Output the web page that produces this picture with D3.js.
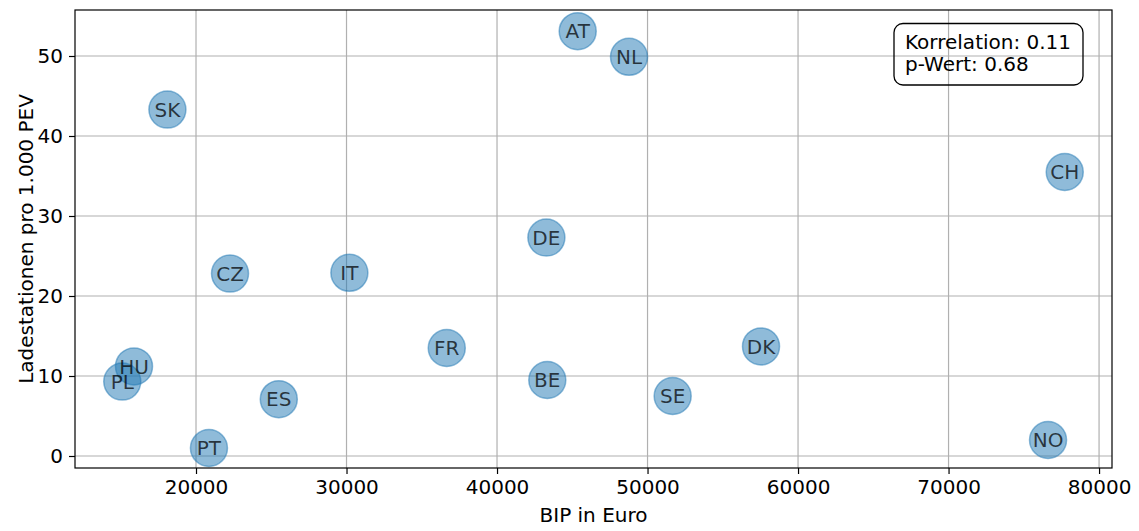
<!DOCTYPE html>
<html>
<head>
<meta charset="utf-8">
<script src="https://cdn.jsdelivr.net/npm/d3@7"></script>
<style>
  html, body { margin: 0; padding: 0; background: #fff; }
  svg { display: block; font-family: "DejaVu Sans", sans-serif; }
</style>
</head>
<body>
<svg id="chart" width="1139" height="531"></svg>
<script>
// Länderkürzel, BIP pro Kopf (Euro) und Ladestationen pro 1.000 PEV
const countries = ["SK", "AT", "NL", "CH", "CZ", "IT", "HU", "PL", "ES", "PT", "DE", "FR", "BE", "SE", "DK", "NO"];
const gdp = [18100, 45360, 48770, 77720, 22260, 30190, 15880, 15100, 25500, 20860, 43280, 36660, 43340, 51670, 57540, 76610];
const chargers = [43.3, 53.1, 49.9, 35.5, 22.8, 22.9, 11.2, 9.3, 7.1, 1.0, 27.3, 13.5, 9.5, 7.5, 13.7, 2.0];
const xTicks = [20000, 30000, 40000, 50000, 60000, 70000, 80000];
const yTicks = [0, 10, 20, 30, 40, 50];
const statsLines = ["Korrelation: 0.11", "p-Wert: 0.68"];

const svg = d3.select("#chart");
const margin = { left: 75, right: 27, top: 10, bottom: 63 };
const W = 1139, H = 531;
const iw = W - margin.left - margin.right;
const ih = H - margin.top - margin.bottom;

const x = d3.scaleLinear().domain([11960, 80860]).range([0, iw]);
const y = d3.scaleLinear().domain([-1.5, 55.75]).range([ih, 0]);

const g = svg.append("g").attr("transform", `translate(${margin.left},${margin.top})`);

// Gitterlinien
g.append("g").selectAll("line").data(xTicks).join("line")
  .attr("x1", d => x(d)).attr("x2", d => x(d))
  .attr("y1", 0).attr("y2", ih)
  .attr("stroke", "#b0b0b0").attr("stroke-width", 1.2);
g.append("g").selectAll("line").data(yTicks).join("line")
  .attr("y1", d => y(d)).attr("y2", d => y(d))
  .attr("x1", 0).attr("x2", iw)
  .attr("stroke", "#b0b0b0").attr("stroke-width", 1.2);

// Achsen
const fs = 20;
const xAxis = g.append("g").attr("transform", `translate(0,${ih})`)
  .call(d3.axisBottom(x).tickValues(xTicks).tickFormat(d3.format("d")).tickSize(6).tickPadding(6));
const yAxis = g.append("g")
  .call(d3.axisLeft(y).tickValues(yTicks).tickFormat(d3.format("d")).tickSize(6).tickPadding(6));
[xAxis, yAxis].forEach(a => {
  a.select(".domain").remove();
  a.selectAll(".tick line").attr("stroke", "#000").attr("stroke-width", 1.2);
  a.selectAll(".tick text").attr("fill", "#000").style("font-size", fs + "px")
    .style("font-family", "'DejaVu Sans', sans-serif");
});

// Punkte
const pts = countries.map((c, i) => ({ c, gx: gdp[i], v: chargers[i] }));
g.append("g").selectAll("circle").data(pts).join("circle")
  .attr("cx", d => x(d.gx)).attr("cy", d => y(d.v)).attr("r", 18.5)
  .attr("fill", "#1f77b4").attr("fill-opacity", 0.5)
  .attr("stroke", "#1f77b4").attr("stroke-opacity", 0.5).attr("stroke-width", 1.5);

g.append("g").selectAll("text").data(pts).join("text")
  .attr("x", d => x(d.gx)).attr("y", d => y(d.v))
  .attr("text-anchor", "middle").attr("dy", "0.36em")
  .attr("fill", "#000").attr("fill-opacity", 0.72)
  .style("font-size", fs + "px")
  .text(d => d.c);

// Rahmen
g.append("rect").attr("x", 0).attr("y", 0).attr("width", iw).attr("height", ih)
  .attr("fill", "none").attr("stroke", "#000").attr("stroke-width", 1.2);

// Statistik-Box
const box = g.append("g").attr("transform", `translate(${894 - margin.left},${23.5 - margin.top})`);
box.append("rect").attr("width", 189).attr("height", 61.5).attr("rx", 9).attr("ry", 9)
  .attr("fill", "none").attr("stroke", "#000").attr("stroke-width", 1.3);
box.selectAll("text").data(statsLines).join("text")
  .attr("x", 11).attr("y", (d, i) => 25.5 + i * 22)
  .attr("fill", "#000").style("font-size", fs + "px")
  .text(d => d);

// Achsentitel
svg.append("text")
  .attr("x", margin.left + iw / 2).attr("y", 522)
  .attr("text-anchor", "middle").attr("fill", "#000").style("font-size", fs + "px")
  .text("BIP in Euro");
svg.append("text")
  .attr("transform", `translate(33,${margin.top + ih / 2}) rotate(-90)`)
  .attr("text-anchor", "middle").attr("fill", "#000").style("font-size", fs + "px")
  .text("Ladestationen pro 1.000 PEV");
</script>
</body>
</html>
